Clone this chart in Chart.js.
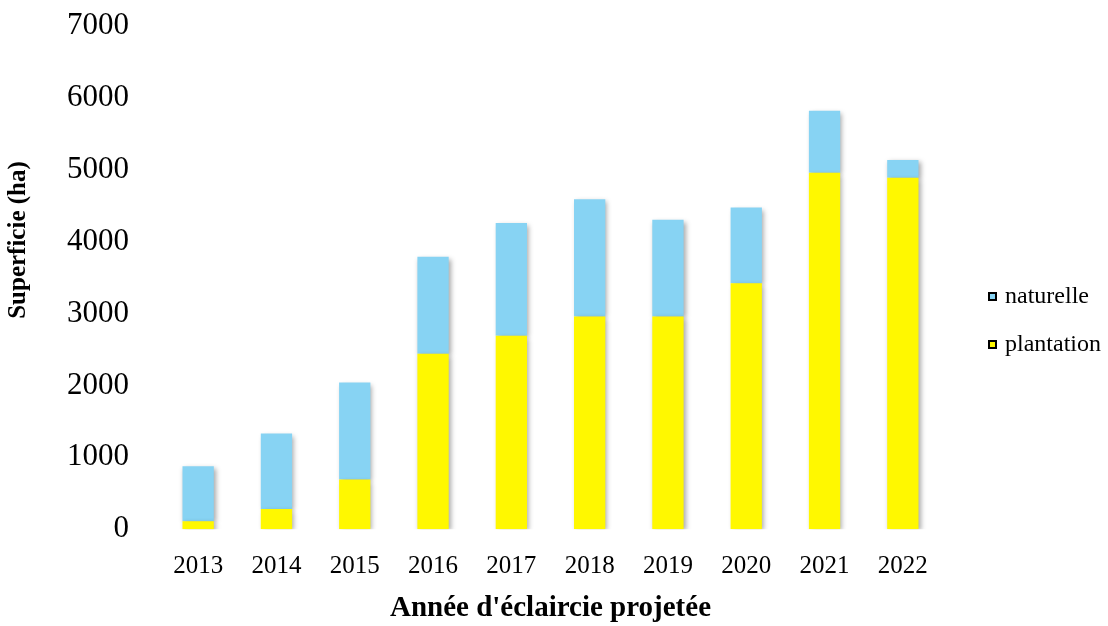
<!DOCTYPE html>
<html>
<head>
<meta charset="utf-8">
<script src="https://cdn.jsdelivr.net/npm/chart.js@4/dist/chart.umd.min.js"></script>
<style>
  html, body { margin: 0; padding: 0; background: #fff; }
  #wrap { width: 1108px; height: 626px; }
</style>
</head>
<body>
<div id="wrap"><canvas id="chart"></canvas></div>
<script>
// données : superficie à éclaircir par année
const annees = ['2013', '2014', '2015', '2016', '2017', '2018', '2019', '2020', '2021', '2022'];
const plantation = [110, 280, 690, 2440, 2690, 2960, 2960, 3420, 4960, 4890];
const naturelle = [765, 1050, 1350, 1350, 1570, 1630, 1345, 1055, 860, 245];
const yTicks = [0, 1000, 2000, 3000, 4000, 5000, 6000, 7000];

const serif = "'Liberation Serif', 'DejaVu Serif', serif";
const bleu = '#87D3F3';
const jaune = '#FFF800';

// ombre douce sous les barres
const ombre = {
    id: 'ombre',
    beforeDatasetsDraw(chart) {
        const c = chart.ctx;
        c.save();
        c.shadowColor = 'rgba(0,0,0,0.35)';
        c.shadowBlur = 5;
        c.shadowOffsetX = 2;
        c.shadowOffsetY = 2;
    },
    afterDatasetsDraw(chart) {
        chart.ctx.restore();
    }
};

// titre vertical et légende à droite, dessinés à la main
const habillage = {
    id: 'habillage',
    afterDraw(chart) {
        const c = chart.ctx;
        c.save();
        c.fillStyle = '#000';
        c.font = `bold 25px ${serif}`;
        c.textAlign = 'center';
        c.textBaseline = 'middle';
        c.translate(19, 240);
        c.rotate(-Math.PI / 2);
        c.fillText('Superficie (ha)', 0, 0);
        c.restore();

        const items = chart.data.datasets.slice().reverse();
        c.save();
        c.font = `24px ${serif}`;
        c.textBaseline = 'middle';
        items.forEach((ds, i) => {
            const y = 297 + i * 48;
            c.fillStyle = ds.backgroundColor;
            c.fillRect(988, y - 5, 9, 9);
            c.strokeStyle = '#000';
            c.lineWidth = 2;
            c.strokeRect(989, y - 4, 7, 7);
            c.fillStyle = '#000';
            c.fillText(ds.label, 1005, y);
        });
        c.restore();
    }
};

new Chart(document.getElementById('chart'), {
    type: 'bar',
    data: {
        labels: annees,
        datasets: [
            { label: 'plantation', data: plantation, backgroundColor: jaune, borderWidth: 0 },
            { label: 'naturelle', data: naturelle, backgroundColor: bleu, borderWidth: 0 }
        ]
    },
    options: {
        responsive: true,
        maintainAspectRatio: false,
        animation: false,
        layout: { padding: { top: 0, right: 166, left: 37, bottom: 0 } },
        datasets: { bar: { barPercentage: 0.4, categoryPercentage: 1 } },
        plugins: {
            tooltip: { enabled: false },
            legend: { display: false }
        },
        scales: {
            x: {
                stacked: true,
                grid: { display: false, drawTicks: false },
                border: { display: false },
                ticks: { color: '#000', font: { family: serif, size: 25 }, padding: 22 },
                title: {
                    display: true,
                    text: "Année d'éclaircie projetée",
                    color: '#000',
                    font: { family: serif, size: 29, weight: 'bold' },
                    padding: { top: -12, bottom: 0 }
                }
            },
            y: {
                stacked: true,
                min: 0,
                max: 7000,
                grid: { display: false, drawTicks: false },
                border: { display: false },
                afterBuildTicks(axis) {
                    axis.ticks = yTicks.map(v => ({ value: v }));
                },
                afterFit(axis) {
                    axis.paddingTop = 26;
                },
                ticks: {
                    color: '#000',
                    font: { family: serif, size: 31 },
                    padding: 30,
                    callback: v => String(v)
                }
            }
        }
    },
    plugins: [ombre, habillage]
});
</script>
</body>
</html>
